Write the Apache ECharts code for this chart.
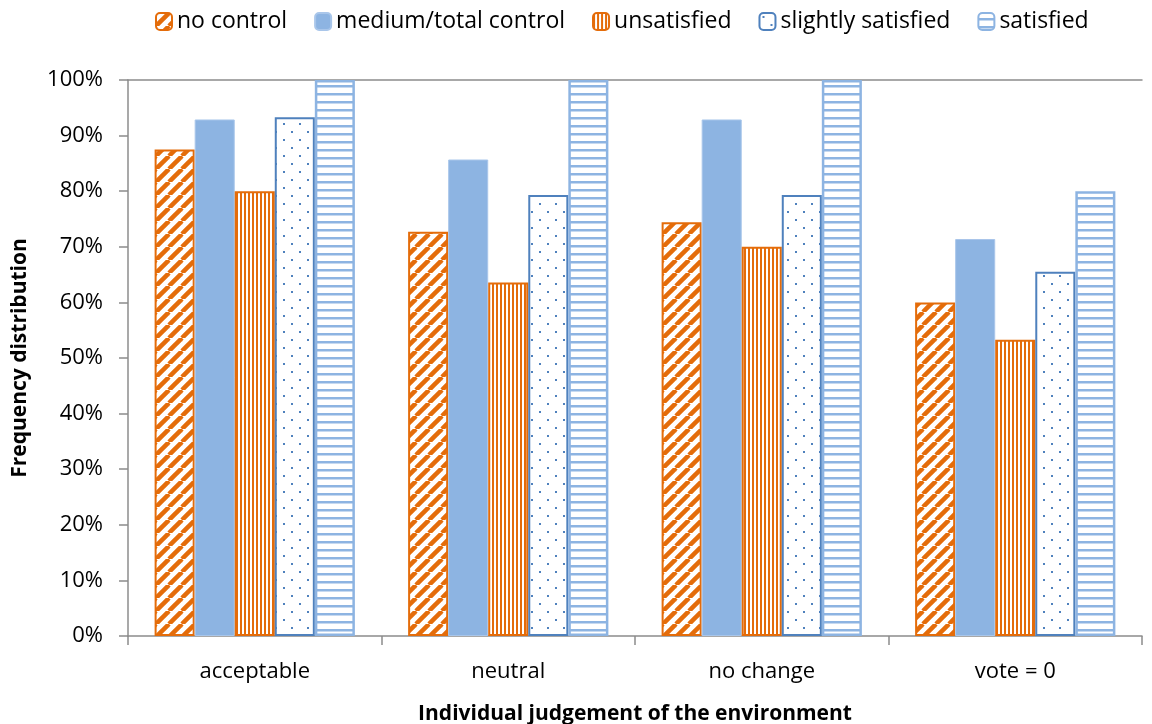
<!DOCTYPE html>
<html>
<head>
<meta charset="utf-8">
<title>Frequency distribution</title>
<script src="https://cdn.jsdelivr.net/npm/echarts@6/dist/echarts.min.js"></script>
<style>
  html, body { margin: 0; padding: 0; background: #fff; }
  #chart { width: 1152px; height: 724px; }
</style>
</head>
<body>
<div id="chart"></div>
<script>
// Judgement categories and the share of respondents per group
const categories = ['acceptable', 'neutral', 'no change', 'vote = 0'];
const noControl = [0.875, 0.727, 0.744, 0.600];
const mediumControl = [0.929, 0.857, 0.929, 0.714];
const unsatisfied = [0.800, 0.636, 0.700, 0.533];
const slightlySatisfied = [0.933, 0.793, 0.793, 0.655];
const satisfied = [1.000, 1.000, 1.000, 0.800];
const yTicks = [0, 0.1, 0.2, 0.3, 0.4, 0.5, 0.6, 0.7, 0.8, 0.9, 1.0];

const ORANGE = '#E46C0A';
const LIGHT_BLUE = '#8DB4E2';
const DARK_BLUE = '#4F81BD';
const FONT = 'Open Sans';

// Small canvas tiles used as repeating fills
function tile(w, h, draw) {
  const c = document.createElement('canvas');
  c.width = w; c.height = h;
  const ctx = c.getContext('2d');
  ctx.fillStyle = '#fff';
  ctx.fillRect(0, 0, w, h);
  draw(ctx, w, h);
  return { image: c, repeat: 'repeat' };
}

const diagonalFill = tile(13, 13, (ctx, w, h) => {
  ctx.strokeStyle = ORANGE;
  ctx.lineWidth = 4.5;
  for (let k = -1; k <= 1; k++) {
    ctx.beginPath();
    ctx.moveTo(k * w, h);
    ctx.lineTo(k * w + w, 0);
    ctx.stroke();
  }
});

const verticalFill = tile(4, 4, (ctx) => {
  ctx.fillStyle = ORANGE;
  ctx.fillRect(0, 0, 2, 4);
});

const dotFill = tile(16, 16, (ctx) => {
  ctx.fillStyle = DARK_BLUE;
  ctx.fillRect(3, 3, 2, 2);
  ctx.fillRect(11, 11, 2, 2);
});

const horizontalFill = tile(8, 8, (ctx) => {
  ctx.fillStyle = LIGHT_BLUE;
  ctx.fillRect(0, 5, 8, 2.5);
});

function barSeries(name, data, fill, border, borderWidth) {
  return {
    name: name,
    type: 'bar',
    data: data,
    barGap: '0%',
    barCategoryGap: '21%',
    itemStyle: { color: fill, borderColor: border, borderWidth: borderWidth },
    emphasis: { disabled: true }
  };
}

const chart = echarts.init(document.getElementById('chart'), null, { renderer: 'canvas' });

chart.setOption({
  animation: false,
  textStyle: { fontFamily: FONT },
  legend: {
    top: 5,
    left: 150,
    itemWidth: 16,
    itemHeight: 17,
    itemGap: 27,
    textStyle: { fontFamily: FONT, fontSize: 23, color: '#000' },
    data: ['no control', 'medium/total control', 'unsatisfied', 'slightly satisfied', 'satisfied']
  },
  grid: { left: 128, right: 10, top: 80, bottom: 88, containLabel: false, outerBoundsMode: 'none' },
  xAxis: [
    {
      type: 'category',
      data: categories,
      name: 'Individual judgement of the environment',
      nameLocation: 'middle',
      nameGap: 68,
      nameTextStyle: { fontFamily: FONT, fontSize: 21, fontWeight: 'bold', color: '#000' },
      axisLine: { show: true, lineStyle: { color: '#8c8c8c', width: 1.5 } },
      axisTick: { show: true, length: 9, lineStyle: { color: '#8c8c8c', width: 1.5 } },
      axisLabel: { fontFamily: FONT, fontSize: 22, color: '#000', margin: 25 }
    },
    {
      type: 'category',
      data: categories,
      position: 'top',
      axisLine: { show: true, lineStyle: { color: '#8c8c8c', width: 1.5 } },
      axisTick: { show: false },
      axisLabel: { show: false }
    }
  ],
  yAxis: {
    type: 'value',
    min: 0,
    max: 1,
    interval: 0.1,
    name: 'Frequency distribution',
    nameLocation: 'middle',
    nameGap: 97,
    nameTextStyle: { fontFamily: FONT, fontSize: 21, fontWeight: 'bold', color: '#000' },
    axisLine: { show: true, lineStyle: { color: '#8c8c8c', width: 1.5 } },
    axisTick: { show: true, length: 9, lineStyle: { color: '#8c8c8c', width: 1.5 } },
    splitLine: { show: false },
    axisLabel: {
      fontFamily: FONT,
      fontSize: 22,
      color: '#000',
      margin: 25,
      formatter: (v) => yTicks.some(t => Math.abs(t - v) < 1e-9) ? Math.round(v * 100) + '%' : ''
    }
  },
  series: [
    barSeries('no control', noControl, diagonalFill, ORANGE, 2),
    barSeries('medium/total control', mediumControl, LIGHT_BLUE, '#A9C6EA', 1),
    barSeries('unsatisfied', unsatisfied, verticalFill, ORANGE, 2),
    barSeries('slightly satisfied', slightlySatisfied, dotFill, DARK_BLUE, 2),
    barSeries('satisfied', satisfied, horizontalFill, LIGHT_BLUE, 2.5)
  ]
});
</script>
</body>
</html>
